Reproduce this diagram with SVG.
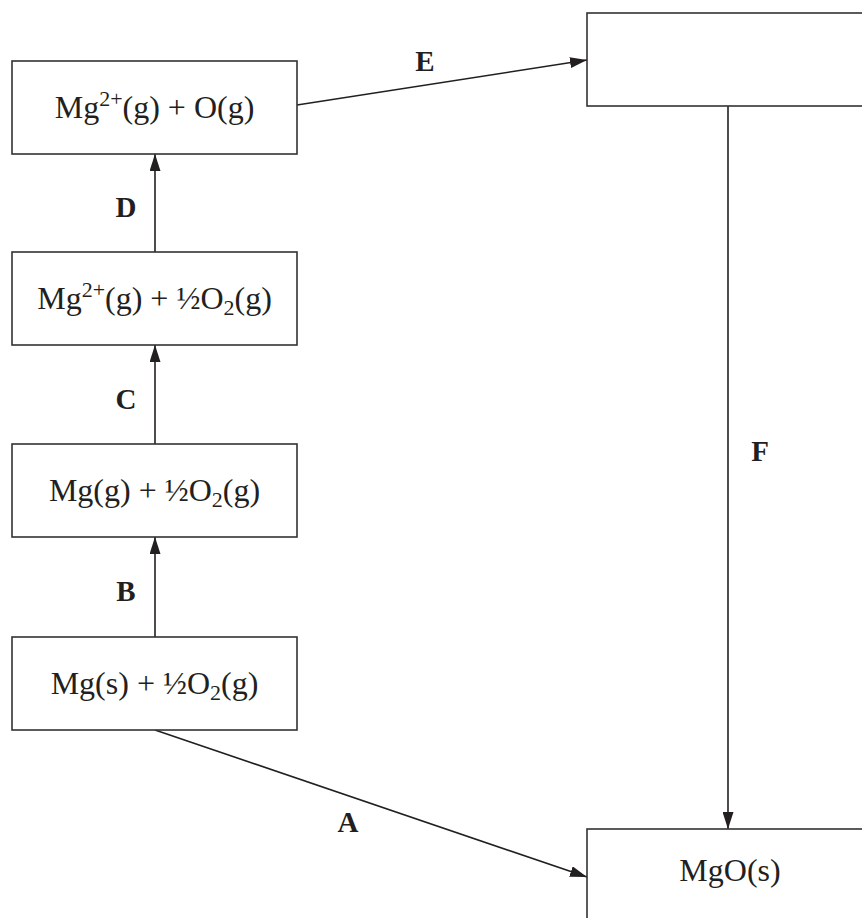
<svg xmlns="http://www.w3.org/2000/svg" width="862" height="918" viewBox="0 0 862 918">
<style>
.box{fill:#fff;stroke:#333;stroke-width:1.6}
.t{font-family:"Liberation Serif","Times New Roman",serif;font-size:32px;fill:#231f20;text-anchor:middle}
.lb{font-family:"Liberation Serif","Times New Roman",serif;font-size:29px;font-weight:bold;fill:#231f20;text-anchor:middle}
.ln{stroke:#231f20;stroke-width:1.6;fill:none}
</style>
<defs>
<marker id="ah" viewBox="0 0 17 11" refX="17" refY="5.5" markerWidth="17" markerHeight="11" markerUnits="userSpaceOnUse" orient="auto">
<path d="M0,0 L17,5.5 L0,11 Z" fill="#231f20"/>
</marker>
</defs>
<rect width="862" height="918" fill="#fff"/>
<g id="connectors">
<line class="ln" x1="155" y1="252" x2="155" y2="154" marker-end="url(#ah)"/>
<line class="ln" x1="155" y1="444" x2="155" y2="345" marker-end="url(#ah)"/>
<line class="ln" x1="155" y1="637" x2="155" y2="537" marker-end="url(#ah)"/>
<line class="ln" x1="297" y1="105" x2="587" y2="60" marker-end="url(#ah)"/>
<line class="ln" x1="155" y1="730" x2="587" y2="877" marker-end="url(#ah)"/>
<line class="ln" x1="728" y1="106" x2="728" y2="829" marker-end="url(#ah)"/>
<text class="lb" x="425" y="71">E</text>
<text class="lb" x="126" y="217">D</text>
<text class="lb" x="126" y="409">C</text>
<text class="lb" x="126" y="601">B</text>
<text class="lb" x="760" y="461">F</text>
<text class="lb" x="348" y="832">A</text>
</g>
<g id="n1">
<rect class="box" x="12" y="61" width="285" height="93"/>
<text class="t" x="154.5" y="118">Mg<tspan font-size="22" dy="-12">2+</tspan><tspan dy="12">(g) + O(g)</tspan></text>
</g>
<g id="n2">
<rect class="box" x="12" y="252" width="285" height="93"/>
<text class="t" x="154.5" y="309">Mg<tspan font-size="22" dy="-12">2+</tspan><tspan dy="12">(g) + ½O</tspan><tspan font-size="22" dy="6">2</tspan><tspan dy="-6">(g)</tspan></text>
</g>
<g id="n3">
<rect class="box" x="12" y="444" width="285" height="93"/>
<text class="t" x="154.5" y="501">Mg(g) + ½O<tspan font-size="22" dy="6">2</tspan><tspan dy="-6">(g)</tspan></text>
</g>
<g id="n4">
<rect class="box" x="12" y="637" width="285" height="93"/>
<text class="t" x="154.5" y="694">Mg(s) + ½O<tspan font-size="22" dy="6">2</tspan><tspan dy="-6">(g)</tspan></text>
</g>
<g id="n5">
<rect class="box" x="587" y="13" width="290" height="93"/>
</g>
<g id="n6">
<rect class="box" x="587" y="829" width="290" height="100"/>
<text class="t" x="730" y="881">MgO(s)</text>
</g>
</svg>
